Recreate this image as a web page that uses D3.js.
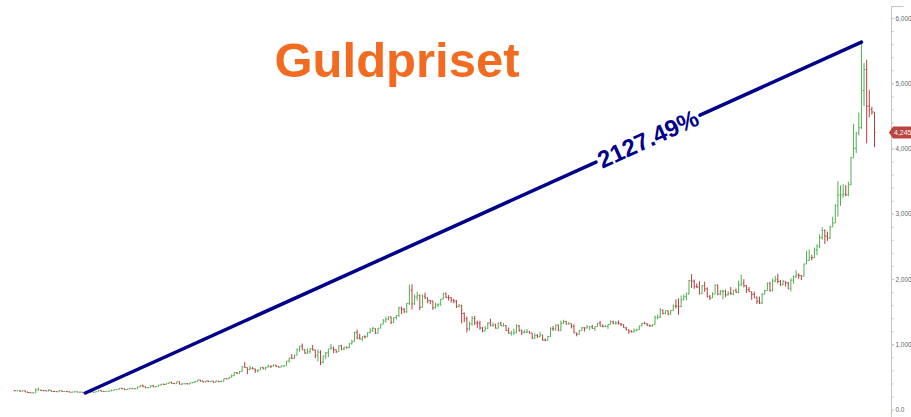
<!DOCTYPE html>
<html>
<head>
<meta charset="utf-8">
<script src="https://cdn.jsdelivr.net/npm/d3@7"></script>
<style>
  body { margin: 0; background: #fff; }
  svg { display: block; }
  .title { font-family: "Liberation Sans", Arial, sans-serif; font-weight: bold; font-size: 49px; fill: #f26b21; }
  .gain { font-family: "Liberation Sans", Arial, sans-serif; font-weight: bold; font-size: 24px; fill: #00008b; }
  .axis text { font-family: "Liberation Sans", Arial, sans-serif; font-size: 6.4px; fill: #666; }
  .axis line { stroke: #c4c4c4; }
  .price-tag text { font-family: "Liberation Sans", Arial, sans-serif; font-size: 7px; fill: #fff; }
</style>
</head>
<body>
<div class="graphic"></div>
<script>
// monthly OHLC, first bar = Jan 1999 (open of each bar = previous close)
const firstMonth = new Date(1999, 0, 1);
const firstOpen = 288;

const closes = [
  287, 287, 280, 286, 268, 261, 255, 255, 299, 299, 292, 290,
  283, 293, 277, 275, 272, 288, 276, 277, 273, 264, 270, 272,
  266, 267, 258, 264, 267, 270, 266, 273, 293, 279, 275, 279,
  282, 297, 302, 308, 326, 318, 304, 312, 324, 317, 319, 348,
  368, 348, 335, 340, 364, 346, 354, 375, 388, 384, 398, 417,
  400, 396, 427, 387, 395, 395, 391, 409, 416, 428, 453, 438,
  422, 435, 428, 436, 416, 437, 429, 433, 473, 470, 495, 517,
  569, 556, 582, 654, 643, 613, 632, 623, 599, 604, 646, 632,
  650, 665, 663, 679, 659, 650, 665, 673, 743, 789, 783, 834,
  923, 972, 916, 865, 885, 930, 912, 833, 880, 724, 815, 869,
  928, 942, 916, 884, 979, 927, 955, 953, 1008, 1040, 1182, 1096,
  1081, 1116, 1113, 1179, 1212, 1244, 1169, 1246, 1307, 1357, 1386, 1420,
  1333, 1410, 1439, 1556, 1536, 1500, 1628, 1826, 1620, 1722, 1746, 1566,
  1737, 1711, 1669, 1664, 1560, 1604, 1614, 1693, 1773, 1719, 1714, 1675,
  1661, 1579, 1596, 1472, 1393, 1234, 1313, 1396, 1326, 1323, 1250, 1202,
  1240, 1326, 1284, 1296, 1246, 1322, 1282, 1287, 1210, 1172, 1175, 1184,
  1283, 1213, 1183, 1183, 1190, 1172, 1095, 1132, 1115, 1142, 1065, 1061,
  1118, 1238, 1233, 1292, 1215, 1322, 1350, 1309, 1316, 1277, 1174, 1152,
  1211, 1253, 1249, 1268, 1269, 1242, 1269, 1322, 1281, 1271, 1275, 1303,
  1345, 1318, 1325, 1315, 1299, 1252, 1224, 1202, 1192, 1214, 1222, 1282,
  1321, 1313, 1292, 1283, 1305, 1409, 1413, 1520, 1472, 1513, 1464, 1517,
  1587, 1585, 1577, 1686, 1730, 1781, 1975, 1968, 1886, 1879, 1776, 1898,
  1848, 1734, 1708, 1769, 1907, 1770, 1814, 1814, 1757, 1783, 1774, 1829,
  1797, 1909, 1937, 1897, 1837, 1807, 1766, 1711, 1660, 1633, 1768, 1824,
  1928, 1827, 1969, 1990, 1963, 1919, 1965, 1940, 1849, 1983, 2036, 2063,
  2054, 2044, 2230, 2286, 2327, 2326, 2448, 2503, 2634, 2744, 2657, 2625,
  2798, 2858, 3124, 3289, 3289, 3303, 3290, 3448, 3858, 4002, 4239, 4320,
  4890, 5210, 4650, 4600, 4560, 4245
];

const highs = [
  293, 291, 289, 291, 289, 268, 264, 261, 325, 338, 300, 294,
  290, 313, 297, 285, 280, 294, 290, 280, 278, 276, 272, 275,
  273, 271, 269, 266, 278, 272, 271, 275, 295, 293, 281, 280,
  288, 303, 303, 309, 327, 330, 322, 314, 326, 325, 326, 349,
  373, 383, 351, 341, 373, 372, 355, 378, 392, 394, 401, 417,
  427, 408, 427, 429, 400, 397, 407, 412, 419, 434, 455, 456,
  429, 438, 447, 438, 436, 442, 431, 447, 474, 476, 497, 538,
  575, 575, 587, 660, 730, 644, 670, 654, 627, 612, 648, 648,
  652, 690, 670, 692, 682, 662, 678, 675, 744, 795, 848, 838,
  935, 975, 1011, 924, 939, 935, 988, 919, 920, 906, 827, 883,
  931, 1006, 964, 917, 983, 990, 960, 960, 1020, 1070, 1194, 1226,
  1161, 1127, 1138, 1182, 1248, 1266, 1212, 1250, 1310, 1387, 1424, 1431,
  1424, 1411, 1448, 1576, 1577, 1556, 1632, 1913, 1920, 1764, 1804, 1764,
  1763, 1792, 1717, 1676, 1667, 1640, 1627, 1693, 1790, 1796, 1755, 1723,
  1696, 1680, 1616, 1605, 1488, 1424, 1347, 1433, 1434, 1362, 1361, 1267,
  1280, 1334, 1392, 1332, 1315, 1332, 1346, 1325, 1290, 1256, 1206, 1239,
  1307, 1294, 1224, 1224, 1232, 1205, 1175, 1170, 1157, 1191, 1143, 1088,
  1127, 1263, 1283, 1305, 1304, 1362, 1375, 1357, 1344, 1318, 1306, 1180,
  1220, 1264, 1261, 1295, 1274, 1296, 1274, 1326, 1357, 1306, 1299, 1306,
  1366, 1361, 1356, 1365, 1326, 1309, 1266, 1220, 1214, 1243, 1237, 1284,
  1326, 1346, 1324, 1300, 1305, 1439, 1452, 1555, 1535, 1518, 1516, 1525,
  1611, 1689, 1704, 1747, 1765, 1789, 1984, 2075, 1992, 1933, 1966, 1907,
  1959, 1872, 1755, 1798, 1913, 1917, 1832, 1834, 1836, 1813, 1877, 1831,
  1853, 1974, 2070, 1998, 1910, 1879, 1784, 1807, 1735, 1730, 1786, 1833,
  1949, 1960, 2009, 2048, 2081, 1984, 1987, 1949, 1953, 2009, 2052, 2135,
  2088, 2054, 2236, 2431, 2450, 2369, 2483, 2531, 2685, 2790, 2761, 2726,
  2817, 2956, 3149, 3500, 3435, 3452, 3439, 3489, 3871, 4380, 4250, 4550,
  5630, 5310, 5360, 4900, 4640, 4560
];

const lows = [
  282, 283, 278, 279, 267, 256, 252, 253, 254, 296, 289, 279,
  281, 282, 276, 270, 269, 271, 275, 271, 269, 263, 263, 265,
  263, 255, 256, 253, 264, 263, 264, 265, 272, 277, 271, 272,
  277, 280, 290, 297, 308, 313, 301, 302, 311, 314, 312, 317,
  342, 346, 328, 325, 338, 343, 342, 352, 370, 374, 382, 395,
  398, 390, 393, 386, 373, 386, 388, 389, 404, 413, 425, 426,
  416, 413, 421, 423, 414, 415, 417, 428, 432, 463, 468, 493,
  514, 546, 550, 582, 642, 543, 608, 614, 560, 570, 607, 612,
  603, 644, 636, 662, 651, 642, 648, 652, 673, 721, 775, 778,
  846, 886, 910, 853, 851, 860, 903, 786, 735, 681, 706, 771,
  802, 922, 866, 866, 884, 908, 908, 931, 939, 995, 1044, 1075,
  1075, 1045, 1088, 1115, 1166, 1189, 1157, 1178, 1243, 1313, 1332, 1367,
  1309, 1327, 1382, 1419, 1462, 1478, 1481, 1604, 1535, 1603, 1668, 1523,
  1564, 1692, 1629, 1613, 1527, 1548, 1567, 1589, 1689, 1703, 1672, 1636,
  1627, 1555, 1562, 1321, 1338, 1180, 1208, 1283, 1292, 1251, 1221, 1182,
  1204, 1238, 1277, 1268, 1241, 1240, 1282, 1273, 1204, 1161, 1131, 1142,
  1167, 1191, 1142, 1169, 1170, 1162, 1077, 1077, 1098, 1108, 1052, 1046,
  1062, 1110, 1206, 1208, 1199, 1200, 1310, 1303, 1305, 1242, 1171, 1122,
  1146, 1208, 1195, 1241, 1214, 1236, 1205, 1266, 1275, 1261, 1264, 1236,
  1302, 1307, 1303, 1301, 1282, 1250, 1211, 1160, 1180, 1182, 1196, 1221,
  1276, 1310, 1281, 1266, 1266, 1309, 1382, 1400, 1459, 1459, 1445, 1454,
  1517, 1548, 1451, 1568, 1670, 1671, 1757, 1863, 1849, 1860, 1764, 1775,
  1803, 1717, 1677, 1721, 1770, 1750, 1751, 1688, 1722, 1746, 1759, 1753,
  1788, 1781, 1890, 1872, 1787, 1805, 1681, 1710, 1615, 1617, 1616, 1765,
  1823, 1804, 1810, 1950, 1932, 1893, 1903, 1885, 1846, 1810, 1931, 2016,
  2002, 1984, 2038, 2230, 2277, 2286, 2318, 2365, 2472, 2604, 2537, 2583,
  2615, 2832, 2857, 2957, 3121, 3247, 3268, 3268, 3435, 3890, 3930, 4200,
  4300, 4650, 4080, 4480, 4520, 4020
];

const yTicks = [0, 1000, 2000, 3000, 4000, 5000, 6000];
const lastPrice = 4245;
const trendMonths = ["2001-04", "2026-01"];
const trendValues = [253, 5630];
const gainLabel = "2127.49%";
const titleText = "Guldpriset";

const width = 911;
const height = 417;
const upColor = "#4fb04f";
const downColor = "#b3403d";

const $graphic = d3.select('.graphic');

function setupChart() {
    const fmtKey = d3.timeFormat("%Y-%m");
    const months = d3.timeMonth.range(firstMonth, d3.timeMonth.offset(firstMonth, closes.length)).map(fmtKey);

    const bars = months.map(function(m, i) {
        const open = i === 0 ? firstOpen : closes[i - 1];
        return { month: m, open: open, high: highs[i], low: lows[i], close: closes[i] };
    });

    const x = d3.scalePoint()
        .domain(months)
        .range([14.8, 874.5]);

    const y = d3.scaleLinear()
        .domain([0, 6200])
        .range([409.5, 5]);

    const svg = $graphic.append("svg")
        .attr("width", width)
        .attr("height", height);

    // OHLC bars
    const bar = svg.append("g").attr("class", "bars")
        .selectAll("g")
        .data(bars)
        .enter()
        .append("g")
        .attr("stroke", d => d.close >= d.open ? upColor : downColor)
        .attr("stroke-width", 1);

    bar.append("line")
        .attr("x1", d => x(d.month))
        .attr("x2", d => x(d.month))
        .attr("y1", d => y(Math.max(d.high, d.open, d.close)))
        .attr("y2", d => y(Math.min(d.low, d.open, d.close)));

    bar.append("line")
        .attr("x1", d => x(d.month) - 1)
        .attr("x2", d => x(d.month))
        .attr("y1", d => y(d.open))
        .attr("y2", d => y(d.open));

    bar.append("line")
        .attr("x1", d => x(d.month))
        .attr("x2", d => x(d.month) + 1)
        .attr("y1", d => y(d.close))
        .attr("y2", d => y(d.close));

    // right axis
    const axisX = 891.5;
    const axisG = svg.append("g")
        .attr("class", "axis")
        .attr("transform", "translate(" + axisX + ",0)");

    axisG.append("line")
        .attr("x1", 0).attr("x2", 0)
        .attr("y1", 6.5).attr("y2", height);
    axisG.append("line")
        .attr("x1", 0).attr("x2", 12)
        .attr("y1", 6.5).attr("y2", 6.5);

    const minor = axisG.append("g")
        .call(d3.axisRight(y).tickValues(d3.range(200, 6200, 200)).tickSize(2).tickFormat(""));
    minor.select(".domain").remove();

    const major = axisG.append("g")
        .call(d3.axisRight(y)
            .tickValues(yTicks)
            .tickSize(2.5)
            .tickPadding(1.5)
            .tickFormat(d => d === 0 ? "0.0" : d3.format(",")(d)));
    major.select(".domain").remove();
    axisG.selectAll("line").attr("stroke", "#c4c4c4");

    // last price tag
    const tag = svg.append("g")
        .attr("class", "price-tag")
        .attr("transform", "translate(" + axisX + "," + y(lastPrice) + ")");
    tag.append("path")
        .attr("d", "M-2.5,0 L1.5,-6 L25,-6 L25,6 L1.5,6 Z")
        .attr("fill", "#b94440");
    tag.append("text")
        .attr("x", 2.5)
        .attr("dy", "0.35em")
        .text(d3.format(",")(lastPrice));

    // title
    svg.append("text")
        .attr("class", "title")
        .attr("x", 397)
        .attr("y", 77)
        .attr("text-anchor", "middle")
        .text(titleText);

    // trend line with gain label cut into it
    const x1 = x(trendMonths[0]), y1 = y(trendValues[0]);
    const x2 = x(trendMonths[1]), y2 = y(trendValues[1]);
    const len = Math.hypot(x2 - x1, y2 - y1);
    const angle = Math.atan2(y2 - y1, x2 - x1) * 180 / Math.PI;
    const t = 0.725;
    const cx = x1 + (x2 - x1) * t;
    const cy = y1 + (y2 - y1) * t;

    const label = svg.append("text")
        .attr("class", "gain")
        .attr("text-anchor", "middle")
        .attr("dy", "0.36em")
        .attr("transform", "translate(" + cx + "," + cy + ") rotate(" + angle + ")")
        .text(gainLabel);

    const half = label.node().getComputedTextLength() / 2 + 3;
    const segs = [[0, t - half / len], [t + half / len, 1]];

    svg.selectAll("line.trend")
        .data(segs)
        .enter()
        .append("line")
        .attr("class", "trend")
        .attr("x1", d => x1 + (x2 - x1) * d[0])
        .attr("y1", d => y1 + (y2 - y1) * d[0])
        .attr("x2", d => x1 + (x2 - x1) * d[1])
        .attr("y2", d => y1 + (y2 - y1) * d[1])
        .attr("stroke", "#00008b")
        .attr("stroke-width", 3.5)
        .attr("stroke-linecap", "round");
}

function init() {
    setupChart();
}

init();
</script>
</body>
</html>
